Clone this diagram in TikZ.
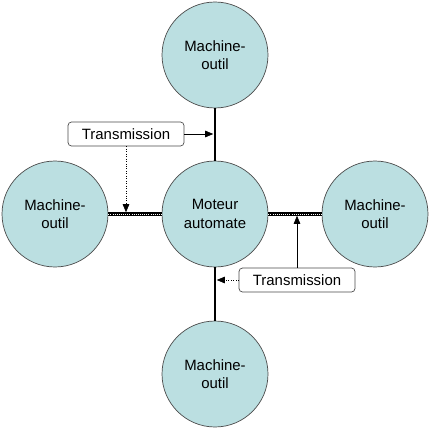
\documentclass[tikz,border=0pt]{standalone}
\usepackage{fontspec}
\setmainfont{Liberation Sans}
\usetikzlibrary{arrows.meta,calc,positioning}
\definecolor{Disc}{HTML}{BBDFE1}
\definecolor{Edge}{HTML}{4A4A4A}

\begin{document}
\begin{tikzpicture}[x=0.02cm,y=-0.02cm,
    machine/.style={circle,draw=Edge,fill=Disc,minimum size=2.12cm,inner sep=0pt,
      align=center,font=\fontsize{8.5}{10.5}\selectfont},
    tbox/.style={draw=Edge,fill=white,rounded corners=2pt,minimum width=2.32cm,
      minimum height=0.48cm,inner sep=0pt,font=\fontsize{8.5}{10}\selectfont},
    shaft/.style={line width=1.7pt},
    belt/.style={line width=2pt,draw=black},
    hatch/.style={white,line width=0.45pt,dash pattern=on 0.45pt off 0.75pt},
    arr/.style={-{Triangle[length=1.6mm,width=1.3mm]},thin},
    darr/.style={arr,densely dotted}]
    \useasboundingbox (0,0) rectangle (429,429);
    \node[machine] (motor) at (215,214) {Moteur\\automate};
    \node[machine] (top) at (215,55) {Machine-\\outil};
    \node[machine] (left) at (55,214) {Machine-\\outil};
    \node[machine] (right) at (375,214) {Machine-\\outil};
    \node[machine] (bottom) at (215,374) {Machine-\\outil};
    % arbres
    \draw[shaft] (top) -- (motor);
    \draw[shaft] (motor) -- (bottom);
    \draw[belt] (left) -- (motor);
    \draw[belt] (motor) -- (right);
    \draw[hatch] (left) -- (motor);
    \draw[hatch] (motor) -- (right);
    % transmissions
    \node[tbox] (transA) at (126,134) {Transmission};
    \node[tbox] (transB) at (297,280) {Transmission};
    \draw[arr,shorten >=1pt] (transA) -- (transA -| motor);
    \draw[darr,shorten >=1pt] (transA) -- (transA |- left);
    \draw[arr,shorten >=1pt] (transB) -- (transB |- right);
    \draw[darr,shorten >=1pt] (transB) -- (transB -| motor);
  \end{tikzpicture}
\end{document}
